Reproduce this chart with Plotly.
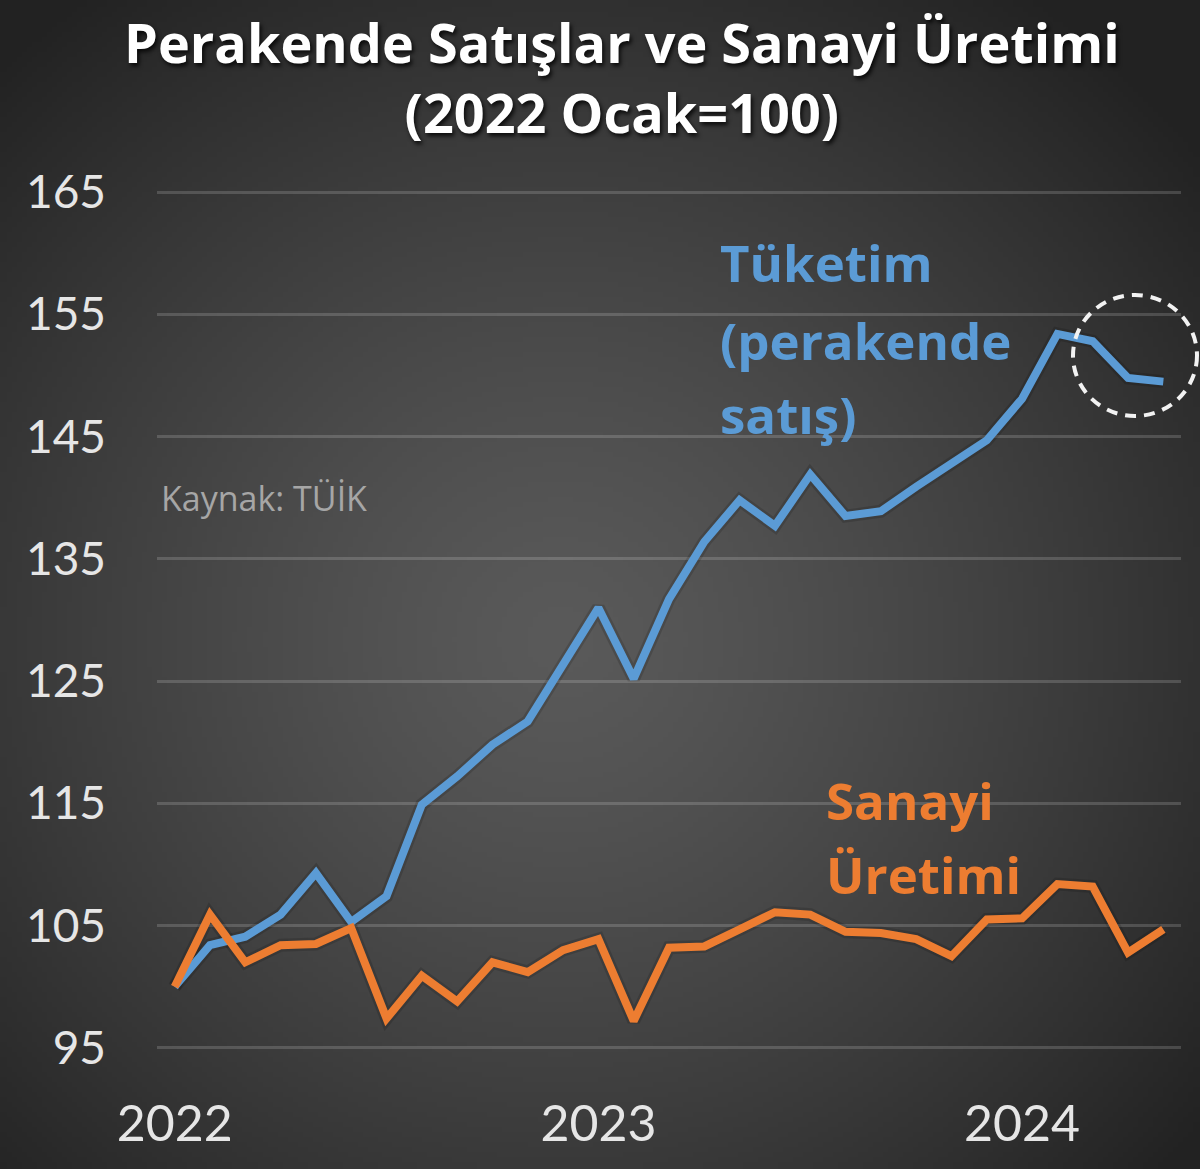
import base64, struct, zlib
import numpy as np
import plotly.graph_objects as go

# ---------------- data ----------------
months = ["2022-01", "2022-02", "2022-03", "2022-04", "2022-05", "2022-06",
          "2022-07", "2022-08", "2022-09", "2022-10", "2022-11", "2022-12",
          "2023-01", "2023-02", "2023-03", "2023-04", "2023-05", "2023-06",
          "2023-07", "2023-08", "2023-09", "2023-10", "2023-11", "2023-12",
          "2024-01", "2024-02", "2024-03", "2024-04", "2024-05"]

perakende = [100.0, 103.4, 104.1, 105.9, 109.3, 105.3, 107.4, 114.9, 117.2,
             119.8, 121.7, 126.4, 131.0, 125.2, 131.7, 136.4, 139.8, 137.7,
             141.9, 138.5, 138.9, 140.9, 142.8, 144.7, 148.1, 153.4, 152.8,
             149.8, 149.5]

sanayi = [100.0, 105.9, 102.0, 103.4, 103.5, 104.8, 97.4, 100.9, 98.8,
          102.0, 101.2, 103.0, 103.9, 97.2, 103.2, 103.3, 104.7, 106.1,
          105.9, 104.5, 104.4, 103.9, 102.5, 105.5, 105.6, 108.4, 108.2,
          102.8, 104.7]

year_ticks = ["2022-01", "2023-01", "2024-01"]
year_labels = ["2022", "2023", "2024"]
y_ticks = [95, 105, 115, 125, 135, 145, 155, 165]

BLUE = "#5B9BD5"
ORANGE = "#ED7D31"

# ---------------- background gradient (PNG built in memory) ----------------
W, H = 1200, 1169
w, h = 240, 234
yy, xx = np.mgrid[0:h, 0:w]
px = (xx + 0.5) * W / w
py = (yy + 0.5) * H / h
t = np.sqrt(((px - 560) / 820) ** 2 + ((py - 640) / 800) ** 2)
t = np.clip(t, 0, 1)
val = 90 - (90 - 34) * t ** 1.3
img = np.clip(val, 0, 255).astype(np.uint8)
rgb = np.stack([img, img, img], axis=-1)
raw = b"".join(b"\x00" + rgb[r].tobytes() for r in range(h))


def chunk(tag, data):
    c = struct.pack(">I", len(data)) + tag + data
    return c + struct.pack(">I", zlib.crc32(tag + data) & 0xffffffff)


png = (b"\x89PNG\r\n\x1a\n"
       + chunk(b"IHDR", struct.pack(">IIBBBBB", w, h, 8, 2, 0, 0, 0))
       + chunk(b"IDAT", zlib.compress(raw, 9))
       + chunk(b"IEND", b""))
bg_uri = "data:image/png;base64," + base64.b64encode(png).decode()

# ---------------- layout geometry ----------------
ML, MR, MT, MB = 157, 19, 186, 115
PW = W - ML - MR
PH = H - MT - MB


def pxx(x):
    return (x - ML) / PW


def pxy(y):
    return (H - MB - y) / PH


fig = go.Figure()

# soft shadows under lines
for ser in (perakende, sanayi):
    fig.add_trace(go.Scatter(x=months, y=ser, mode="lines",
                             line=dict(color="rgba(0,0,0,0.14)", width=13),
                             hoverinfo="skip", showlegend=False))

fig.add_trace(go.Scatter(x=months, y=perakende, mode="lines", name="Tüketim",
                         line=dict(color=BLUE, width=8), showlegend=False))
fig.add_trace(go.Scatter(x=months, y=sanayi, mode="lines", name="Sanayi Üretimi",
                         line=dict(color=ORANGE, width=8), showlegend=False))

fig.update_layout(
    width=W, height=H,
    margin=dict(l=ML, r=MR, t=MT, b=MB),
    paper_bgcolor="#333333",
    plot_bgcolor="rgba(0,0,0,0)",
    showlegend=False,
    images=[dict(source=bg_uri, xref="paper", yref="paper",
                 x=-ML / PW, y=1 + MT / PH, sizex=W / PW, sizey=H / PH,
                 xanchor="left", yanchor="top", sizing="stretch",
                 layer="below")],
    xaxis=dict(type="category", categoryorder="array", categoryarray=months,
               range=[-0.5, len(months) - 0.5],
               tickvals=year_ticks, ticktext=year_labels,
               showgrid=False, zeroline=False, showline=False, ticks="",
               ticklabelstandoff=36,
               tickfont=dict(family="Lato, Open Sans, sans-serif", size=50,
                             color="#E6E6E6")),
    yaxis=dict(range=[94.5, 165.5], tickvals=y_ticks,
               showgrid=True, gridcolor="rgba(255,255,255,0.16)", gridwidth=2.5,
               zeroline=False, showline=False, ticks="",
               ticklabelstandoff=50,
               tickfont=dict(family="Lato, Open Sans, sans-serif", size=46,
                             color="#E6E6E6")),
)

title_font = dict(family="Open Sans, sans-serif", size=54, color="#FFFFFF",
                  weight=700, shadow="2px 3px 4px rgba(0,0,0,0.8)")
fig.add_annotation(text="Perakende Satışlar ve Sanayi Üretimi<br>(2022 Ocak=100)",
                   xref="paper", yref="paper", x=pxx(622), y=pxy(77),
                   xanchor="center", yanchor="middle", showarrow=False,
                   align="center", font=title_font)

fig.add_annotation(text="Kaynak: TÜİK", xref="paper", yref="paper",
                   x=pxx(159), y=pxy(498), xanchor="left", yanchor="middle",
                   showarrow=False,
                   font=dict(family="Open Sans, sans-serif", size=34,
                             color="#A6A6A6"))

lab_font_b = dict(family="Open Sans, sans-serif", size=51, color=BLUE, weight=700)
for txt, yc in (("Tüketim", 262), ("(perakende", 340), ("satış)", 414)):
    fig.add_annotation(text=txt, xref="paper", yref="paper",
                       x=pxx(718), y=pxy(yc), xanchor="left", yanchor="middle",
                       showarrow=False, font=lab_font_b)

lab_font_o = dict(family="Open Sans, sans-serif", size=51, color=ORANGE, weight=700)
for txt, yc in (("Sanayi", 800), ("Üretimi", 874)):
    fig.add_annotation(text=txt, xref="paper", yref="paper",
                       x=pxx(824), y=pxy(yc), xanchor="left", yanchor="middle",
                       showarrow=False, font=lab_font_o)

fig.add_shape(type="circle", xref="paper", yref="paper",
              x0=pxx(1073), x1=pxx(1197), y0=pxy(416), y1=pxy(295),
              line=dict(color="#F2F2F2", width=4, dash="11px,8px"),
              layer="above")

fig.write_html("out.html", config={"displayModeBar": False},
               post_script="document.body.style.margin='0';"
                           "document.body.style.background='#333333';")
